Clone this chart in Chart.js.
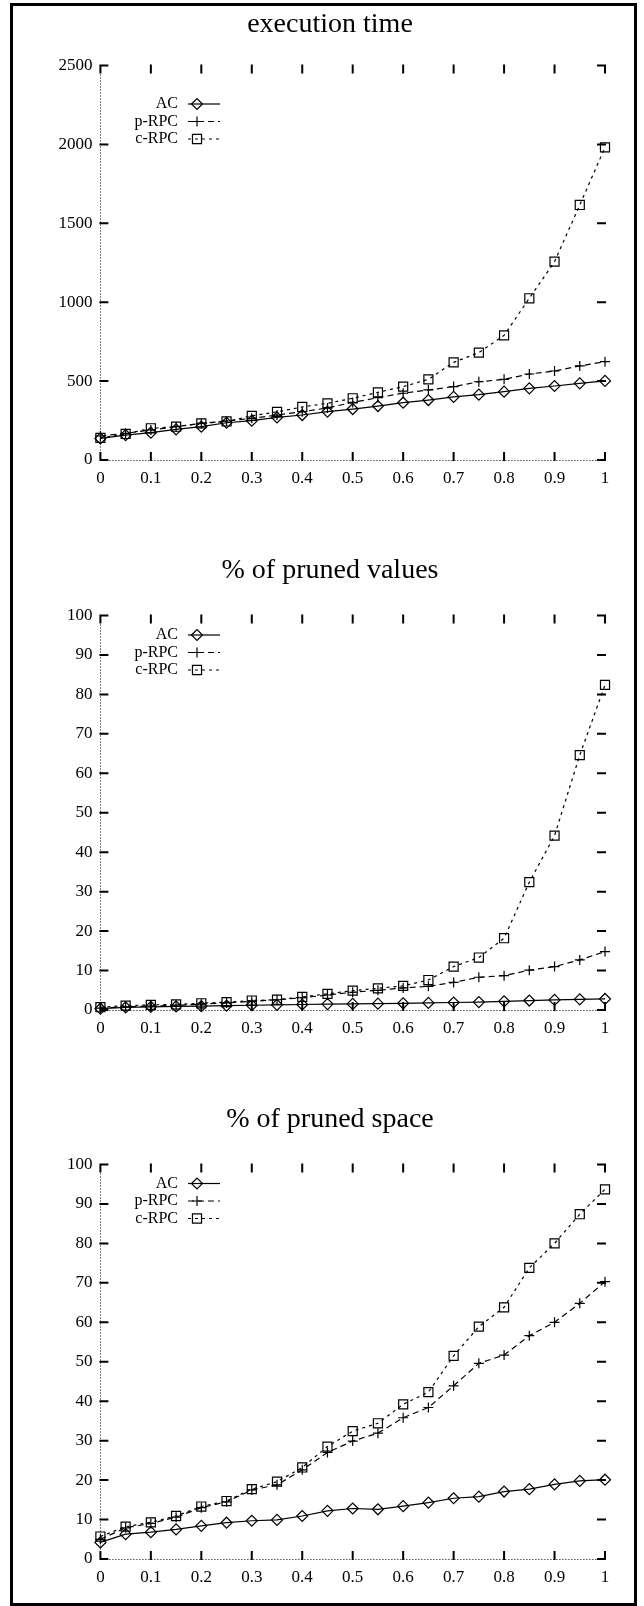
<!DOCTYPE html>
<html>
<head>
<meta charset="utf-8">
<title>execution time / % of pruned values / % of pruned space</title>
<script src="https://cdn.jsdelivr.net/npm/chart.js@4.4.1/dist/chart.umd.min.js"></script>
<style>
  body { margin: 0; background: #fff; }
  #page { position: relative; width: 644px; height: 1606px; overflow: hidden; }
  #frame { position: absolute; left: 10px; top: 3px; width: 621px; height: 1597px; border: 3px solid #000; }
  canvas { position: absolute; left: 0; }
</style>
</head>
<body>
<div id="page">
  <div id="frame"></div>
  <canvas id="timeChart" width="644" height="535" style="top:0px"></canvas>
  <canvas id="valuesChart" width="644" height="535" style="top:550px"></canvas>
  <canvas id="spaceChart" width="644" height="535" style="top:1099px"></canvas>
</div>
<script>
// x positions of the measurements
const xValues = [0, 0.05, 0.1, 0.15, 0.2, 0.25, 0.3, 0.35, 0.4, 0.45, 0.5,
  0.55, 0.6, 0.65, 0.7, 0.75, 0.8, 0.85, 0.9, 0.95, 1];

const xTicks = [0, 0.1, 0.2, 0.3, 0.4, 0.5, 0.6, 0.7, 0.8, 0.9, 1];
const xTickLabels = ["0", "0.1", "0.2", "0.3", "0.4", "0.5", "0.6", "0.7", "0.8", "0.9", "1"];
const timeTicks = [0, 500, 1000, 1500, 2000, 2500];
const pctTicks = [0, 10, 20, 30, 40, 50, 60, 70, 80, 90, 100];

const seriesNames = ["AC", "p-RPC", "c-RPC"];

// execution time
const timeAC = [137, 158, 173, 194, 211, 236, 249, 270, 285, 306, 323, 342, 363, 380, 400, 414, 433, 454, 469, 486, 501];
const timePRPC = [152, 169, 190, 211, 232, 247, 264, 285, 306, 330, 365, 395, 423, 444, 465, 496, 511, 545, 564, 596, 623];
const timeCRPC = [140, 165, 201, 211, 232, 244, 280, 305, 336, 359, 391, 429, 465, 511, 619, 680, 790, 1025, 1257, 1616, 1981];

// % of pruned values
const valuesAC = [0.35, 0.65, 0.8, 0.9, 1.0, 1.1, 1.2, 1.3, 1.4, 1.5, 1.55, 1.6, 1.7, 1.8, 1.9, 2.0, 2.2, 2.4, 2.55, 2.7, 2.8];
const valuesPRPC = [0.5, 0.8, 1.0, 1.2, 1.5, 1.8, 2.2, 2.6, 3.1, 3.8, 4.5, 5.0, 5.6, 6.0, 7.0, 8.3, 8.7, 10.1, 11.0, 12.7, 14.8];
const valuesCRPC = [0.7, 1.1, 1.3, 1.4, 1.7, 2.0, 2.4, 2.6, 3.3, 4.1, 4.9, 5.5, 6.1, 7.6, 11.0, 13.3, 18.2, 32.4, 44.2, 64.6, 82.4];

// % of pruned space
const spaceAC = [4.2, 6.3, 6.8, 7.5, 8.4, 9.2, 9.7, 9.9, 10.9, 12.2, 12.8, 12.6, 13.4, 14.3, 15.4, 15.8, 17.1, 17.7, 18.9, 19.8, 20.1];
const spacePRPC = [5.0, 7.9, 9.0, 10.6, 13.0, 14.5, 17.5, 18.8, 22.6, 27.0, 29.9, 31.9, 35.8, 38.4, 43.9, 49.6, 51.7, 56.6, 60.0, 64.8, 70.3];
const spaceCRPC = [5.7, 8.2, 9.3, 10.9, 13.3, 14.7, 17.7, 19.6, 23.2, 28.5, 32.4, 34.4, 39.2, 42.3, 51.5, 58.9, 63.8, 73.8, 80.0, 87.4, 93.7];

const FONT = "'Liberation Serif', 'Times New Roman', serif";
const TITLE_SIZE = 28;

// gnuplot style: dotted zero axes, short inward tics on all four sides
const gnuplotAxes = {
  id: "gnuplotAxes",
  beforeDatasetsDraw(chart) {
    const { ctx, chartArea: a, scales: { x, y } } = chart;
    ctx.save();
    ctx.strokeStyle = "#000";
    ctx.lineWidth = 1;
    ctx.setLineDash([1, 2]);
    ctx.beginPath();
    const x0 = Math.round(x.getPixelForValue(0)) + 0.5;
    const y0 = Math.round(y.getPixelForValue(0)) + 0.5;
    ctx.moveTo(x0, a.top);
    ctx.lineTo(x0, a.bottom);
    ctx.moveTo(a.left, y0);
    ctx.lineTo(a.right, y0);
    ctx.stroke();

    ctx.setLineDash([]);
    ctx.lineWidth = 2;
    ctx.beginPath();
    y.ticks.forEach((t) => {
      const py = y.getPixelForValue(t.value);
      ctx.moveTo(a.left - 1, py);
      ctx.lineTo(a.left + 8, py);
      ctx.moveTo(a.right - 8, py);
      ctx.lineTo(a.right + 1, py);
    });
    x.ticks.forEach((t) => {
      const px = x.getPixelForValue(t.value);
      ctx.moveTo(px, a.bottom + 1);
      ctx.lineTo(px, a.bottom - 8);
      ctx.moveTo(px, a.top - 1);
      ctx.lineTo(px, a.top + 8);
    });
    ctx.stroke();
    ctx.restore();
  },
};

// key in the upper left corner: label, then line sample with its marker
const gnuplotKey = {
  id: "gnuplotKey",
  afterDatasetsDraw(chart, args, opts) {
    const { ctx, chartArea: a } = chart;
    ctx.save();
    ctx.font = "16px " + FONT;
    ctx.textAlign = "right";
    ctx.textBaseline = "middle";
    chart.data.datasets.forEach((ds, i) => {
      const yy = a.top + opts.top + i * 17.5;
      ctx.fillStyle = "#000";
      ctx.fillText(ds.label, 178, yy);
      ctx.strokeStyle = "#000";
      ctx.lineWidth = ds.borderWidth;
      ctx.setLineDash(ds.borderDash);
      ctx.beginPath();
      ctx.moveTo(188, yy);
      ctx.lineTo(220, yy);
      ctx.stroke();
      ctx.setLineDash([]);
      ctx.fillStyle = "rgba(0,0,0,0)";
      Chart.helpers.drawPoint(ctx, {
        pointStyle: ds.pointStyle,
        radius: ds.pointRadius,
        rotation: 0,
        borderWidth: ds.pointBorderWidth,
      }, 197, yy);
    });
    ctx.restore();
  },
};

function toPoints(values) {
  return values.map((v, i) => ({ x: xValues[i], y: v }));
}

function makeDatasets(ac, prpc, crpc) {
  const styles = [
    { pointStyle: "rectRot", pointRadius: 5.5, borderDash: [] },
    { pointStyle: "cross", pointRadius: 5, borderDash: [6, 4] },
    { pointStyle: "rect", pointRadius: 6.4, borderDash: [3, 4] },
  ];
  return [ac, prpc, crpc].map((values, i) => ({
    label: seriesNames[i],
    data: toPoints(values),
    ...styles[i],
    borderColor: "#000",
    borderWidth: 1.2,
    pointBorderColor: "#000",
    pointBackgroundColor: "rgba(0,0,0,0)",
    pointBorderWidth: 1.2,
    pointHoverRadius: styles[i].pointRadius,
    tension: 0,
    fill: false,
    clip: false,
  }));
}

function makeChart(id, title, titlePad, datasets, yMax, yTicks, keyTop) {
  return new Chart(document.getElementById(id), {
    type: "line",
    data: { datasets },
    plugins: [gnuplotAxes, gnuplotKey],
    options: {
      responsive: false,
      animation: false,
      events: [],
      // left padding shifts the title centre; y axis width makes up for it
      layout: { padding: { left: 55, right: 39, top: 0, bottom: 35 } },
      plugins: {
        legend: { display: false },
        tooltip: { enabled: false },
        title: {
          display: true,
          text: title,
          color: "#000",
          font: { family: FONT, size: TITLE_SIZE, weight: "normal" },
          padding: { top: titlePad, bottom: 65.5 - titlePad - TITLE_SIZE * 1.2 },
        },
        gnuplotKey: { top: keyTop },
      },
      scales: {
        x: {
          type: "linear",
          min: 0,
          max: 1,
          grid: { display: false, drawTicks: false },
          border: { display: false },
          afterBuildTicks: (scale) => { scale.ticks = xTicks.map((v) => ({ value: v })); },
          afterFit: (scale) => { scale.height = 40; },
          ticks: {
            autoSkip: false,
            maxRotation: 0,
            padding: 8,
            color: "#000",
            font: { family: FONT, size: 17 },
            callback: (v, i) => xTickLabels[i],
          },
        },
        y: {
          min: 0,
          max: yMax,
          grid: { display: false, drawTicks: false },
          border: { display: false },
          afterBuildTicks: (scale) => { scale.ticks = yTicks.map((v) => ({ value: v })); },
          afterFit: (scale) => { scale.width = 45.4; },
          ticks: {
            padding: 8,
            color: "#000",
            font: { family: FONT, size: 17 },
            callback: (v) => String(v),
          },
        },
      },
    },
  });
}

makeChart("timeChart", "execution time", 8, makeDatasets(timeAC, timePRPC, timeCRPC), 2500, timeTicks, 38.5);
makeChart("valuesChart", "% of pruned values", 4, makeDatasets(valuesAC, valuesPRPC, valuesCRPC), 100, pctTicks, 19.5);
makeChart("spaceChart", "% of pruned space", 4, makeDatasets(spaceAC, spacePRPC, spaceCRPC), 100, pctTicks, 19);
</script>
</body>
</html>
